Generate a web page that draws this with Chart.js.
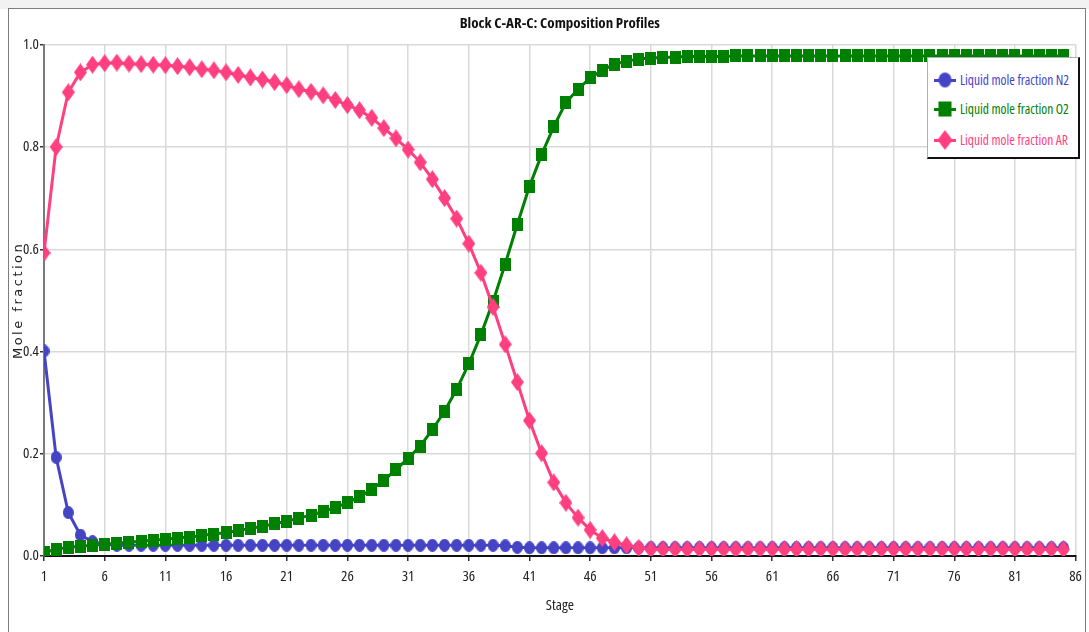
<!DOCTYPE html>
<html>
<head>
<meta charset="utf-8">
<title>Block C-AR-C: Composition Profiles</title>
<script src="https://cdn.jsdelivr.net/npm/chart.js@4.4.1/dist/chart.umd.min.js"></script>
<style>
  html, body { margin: 0; padding: 0; background: #fff; }
  body { width: 1089px; height: 632px; position: relative; overflow: hidden; }
  #topband { position: absolute; left: 0; top: 0; width: 1089px; height: 9px; background: #f2f2f2; }
  #frame { position: absolute; left: 8px; top: 8px; width: 1076px; height: 640px; border: 1px solid #7d7d7d; background: #fff; }
  #wrap { position: absolute; left: 0; top: 0; width: 1089px; height: 632px; }
  #legend {
    position: absolute; left: 927px; top: 57px; width: 150px; height: 99px;
    background: #fff; border-left: 1px solid #b0b0b0; border-top: 1px solid #b0b0b0;
    border-right: 2px solid #111; border-bottom: 2px solid #111;
    font-family: 'Open Sans', sans-serif; font-stretch: 75%; font-size: 13.5px;
  }
  .item { position: absolute; left: 5px; height: 20px; display: flex; align-items: center; white-space: nowrap; }
  .icon { position: relative; width: 24px; height: 20px; margin-right: 3px; }
  .icon .ln { position: absolute; left: 1px; right: 1px; top: 9px; height: 3px; }
  .icon canvas { position: absolute; left: 50%; top: 50%; transform: translate(-50%, -50%); }
</style>
</head>
<body>
<div id="topband"></div>
<div id="frame"></div>
<div id="wrap"><canvas id="chart"></canvas></div>
<div id="legend"></div>
<script>
// stages on the column
const stages = [1, 2, 3, 4, 5, 6, 7, 8, 9, 10, 11, 12, 13, 14, 15, 16, 17, 18, 19, 20,
  21, 22, 23, 24, 25, 26, 27, 28, 29, 30, 31, 32, 33, 34, 35, 36, 37, 38, 39, 40,
  41, 42, 43, 44, 45, 46, 47, 48, 49, 50, 51, 52, 53, 54, 55, 56, 57, 58, 59, 60,
  61, 62, 63, 64, 65, 66, 67, 68, 69, 70, 71, 72, 73, 74, 75, 76, 77, 78, 79, 80,
  81, 82, 83, 84, 85];
const stageTicks = [1, 6, 11, 16, 21, 26, 31, 36, 41, 46, 51, 56, 61, 66, 71, 76, 81, 86];
const fractionTicks = [0, 0.2, 0.4, 0.6, 0.8, 1.0];

const seriesNames = ['Liquid mole fraction N2', 'Liquid mole fraction O2', 'Liquid mole fraction AR'];
const seriesColors = ['#4444c4', '#008000', '#ff3f80'];

// liquid mole fractions
const n2 = [0.401, 0.193, 0.085, 0.041, 0.028, 0.023, 0.021, 0.021, 0.021, 0.021,
  0.021, 0.021, 0.021, 0.021, 0.021, 0.021, 0.021, 0.021, 0.021, 0.021,
  0.021, 0.021, 0.021, 0.021, 0.021, 0.021, 0.021, 0.021, 0.021, 0.021,
  0.021, 0.021, 0.021, 0.021, 0.021, 0.021, 0.021, 0.021, 0.020, 0.017,
  0.016, 0.016, 0.016, 0.016, 0.016, 0.016, 0.016, 0.016, 0.016, 0.016,
  0.016, 0.016, 0.016, 0.016, 0.016, 0.016, 0.016, 0.016, 0.016, 0.016,
  0.016, 0.016, 0.016, 0.016, 0.016, 0.016, 0.016, 0.016, 0.016, 0.016,
  0.016, 0.016, 0.016, 0.016, 0.016, 0.016, 0.016, 0.016, 0.016, 0.016,
  0.016, 0.016, 0.016, 0.016, 0.016];
const o2 = [0.007, 0.013, 0.017, 0.019, 0.021, 0.023, 0.025, 0.027, 0.029, 0.031,
  0.033, 0.035, 0.037, 0.040, 0.043, 0.046, 0.050, 0.054, 0.058, 0.063,
  0.068, 0.074, 0.080, 0.087, 0.095, 0.104, 0.116, 0.130, 0.148, 0.169,
  0.191, 0.215, 0.247, 0.283, 0.326, 0.376, 0.433, 0.498, 0.571, 0.649,
  0.723, 0.785, 0.840, 0.887, 0.913, 0.935, 0.950, 0.962, 0.968, 0.972,
  0.974, 0.975, 0.976, 0.977, 0.977, 0.977, 0.977, 0.978, 0.978, 0.978,
  0.978, 0.978, 0.978, 0.978, 0.978, 0.978, 0.978, 0.978, 0.978, 0.978,
  0.978, 0.978, 0.978, 0.978, 0.978, 0.978, 0.978, 0.978, 0.978, 0.978,
  0.978, 0.978, 0.978, 0.978, 0.978];
const ar = [0.593, 0.800, 0.907, 0.946, 0.961, 0.964, 0.965, 0.963, 0.962, 0.961,
  0.960, 0.958, 0.956, 0.952, 0.950, 0.946, 0.941, 0.936, 0.932, 0.927,
  0.921, 0.913, 0.908, 0.901, 0.892, 0.882, 0.872, 0.857, 0.837, 0.817,
  0.795, 0.770, 0.737, 0.700, 0.660, 0.611, 0.554, 0.487, 0.414, 0.340,
  0.265, 0.201, 0.144, 0.104, 0.075, 0.051, 0.035, 0.027, 0.021, 0.016,
  0.013, 0.013, 0.013, 0.013, 0.013, 0.013, 0.013, 0.013, 0.013, 0.013,
  0.013, 0.013, 0.013, 0.013, 0.013, 0.013, 0.013, 0.013, 0.013, 0.013,
  0.013, 0.013, 0.013, 0.013, 0.013, 0.013, 0.013, 0.013, 0.013, 0.013,
  0.013, 0.013, 0.013, 0.013, 0.013];

// Chart.js rejects 'condensed' as a font style, so it rides along with the weight
const cond = "'Open Sans', sans-serif";
const tickFont = { family: cond, size: 15, weight: 'condensed' };

// markers are a bit taller than wide, like the source plot
function marker(kind, color, w, h) {
  const c = document.createElement('canvas');
  c.width = w; c.height = h;
  const g = c.getContext('2d');
  g.fillStyle = color;
  g.beginPath();
  if (kind === 'circle') g.ellipse(w / 2, h / 2, w / 2, h / 2, 0, 0, Math.PI * 2);
  else if (kind === 'square') g.rect(0, 0, w, h);
  else { g.moveTo(w / 2, 0); g.lineTo(w, h / 2); g.lineTo(w / 2, h); g.lineTo(0, h / 2); g.closePath(); }
  g.fill();
  return c;
}
const markerKinds = [['circle', 11, 13], ['square', 11, 13], ['diamond', 13, 18]];

const seriesData = [n2, o2, ar];
const datasets = seriesData.map((vals, i) => ({
  label: seriesNames[i],
  data: vals,
  borderColor: seriesColors[i],
  backgroundColor: seriesColors[i],
  borderWidth: 3,
  pointStyle: marker(markerKinds[i][0], seriesColors[i], markerKinds[i][1], markerKinds[i][2]),
  pointRadius: 6,
  pointHoverRadius: 6,
  tension: 0,
  order: 3 - i
}));

// the y title in the source is letter-spaced; canvas can do that, Chart.js has no option for it
const spacedYTitle = {
  id: 'spacedYTitle',
  afterUpdate(chart) {
    const ys = chart.scales.y;
    if (!ys || ys._spaced) return;
    const orig = ys.drawTitle;
    ys.drawTitle = function () {
      this.ctx.letterSpacing = '2.5px';
      orig.call(this);
      this.ctx.letterSpacing = '0px';
    };
    ys._spaced = true;
  }
};

new Chart(document.getElementById('chart'), {
  type: 'line',
  data: { labels: stages, datasets: datasets },
  plugins: [spacedYTitle],
  options: {
    responsive: true,
    maintainAspectRatio: false,
    animation: false,
    layout: { padding: { left: 0, right: 11, top: 0, bottom: 0 } },
    plugins: {
      legend: { display: false },
      tooltip: { enabled: false },
      title: {
        display: true,
        text: 'Block C-AR-C: Composition Profiles',
        fullSize: false,
        color: '#111',
        font: { family: cond, size: 15, weight: 'bold condensed', lineHeight: 1.25 },
        padding: { top: 14, bottom: 12 }
      }
    },
    scales: {
      x: {
        type: 'linear',
        min: 1,
        max: 86,
        afterBuildTicks: (scale) => { scale.ticks = stageTicks.map(v => ({ value: v })); },
        afterFit: (scale) => { scale.height = 76; },
        grid: { color: '#d9d9d9', lineWidth: 1.5, tickColor: '#333', tickLength: 5 },
        border: { color: '#111', width: 2 },
        ticks: { color: '#222', padding: 7, maxRotation: 0, autoSkip: false, font: tickFont },
        title: { display: true, text: 'Stage', color: '#222',
          font: { family: cond, size: 15, weight: 'condensed' }, padding: { top: 0, bottom: 17 } }
      },
      y: {
        min: 0,
        max: 1,
        afterBuildTicks: (scale) => { scale.ticks = fractionTicks.map(v => ({ value: v })); },
        afterFit: (scale) => { scale.width = 44; },
        grid: { color: '#d9d9d9', lineWidth: 1.5, tickColor: '#333', tickLength: 4 },
        border: { color: '#7a7a7a', width: 2 },
        ticks: { color: '#222', padding: 1, font: tickFont, callback: (v) => v.toFixed(1) },
        title: { display: true, text: 'Mole fraction', color: '#222',
          font: { family: "'DejaVu Sans', sans-serif", size: 13 }, padding: { top: 11, bottom: 0 } }
      }
    }
  }
});

// legend box in the top right corner of the plot
const legend = document.getElementById('legend');
const rowTops = [12, 41, 72];
seriesNames.forEach((name, i) => {
  const item = document.createElement('div');
  item.className = 'item';
  item.style.top = rowTops[i] + 'px';
  item.style.color = seriesColors[i];
  const icon = document.createElement('span');
  icon.className = 'icon';
  const ln = document.createElement('span');
  ln.className = 'ln';
  ln.style.background = seriesColors[i];
  icon.appendChild(ln);
  const k = markerKinds[i];
  icon.appendChild(marker(k[0], seriesColors[i], k[1] + 2, k[2] + 2));
  item.appendChild(icon);
  item.appendChild(document.createTextNode(name));
  legend.appendChild(item);
});
</script>
</body>
</html>
